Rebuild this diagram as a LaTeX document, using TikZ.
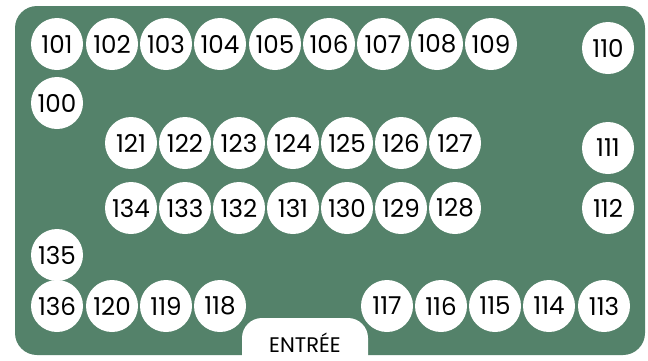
\documentclass[tikz,border=0pt]{standalone}
\usepackage{fontspec}
\setmainfont{Poppins}
\usepackage{tikz}
\usetikzlibrary{positioning}
\definecolor{salle}{RGB}{84,130,106}

\begin{document}
\begin{tikzpicture}[
  x=0.03cm,y=-0.03cm,
  font=\fontsize{21}{21}\selectfont,
  table/.style={circle,fill=white,minimum size=1.56cm,inner sep=0pt},
  entree/.style={fill=white,rounded corners=20*0.03cm},
]
\useasboundingbox (0,0) rectangle (648,360);
\fill[white] (0,0) rectangle (648,360);
\fill[salle,rounded corners=0.66cm] (15,6) rectangle (645,355);
\fill[entree] (242,318) rectangle (368,375);
\node (entree) at (305,343) {\fontsize{18}{18}\selectfont ENTRÉE};

% rangee du haut
\node[table] (t101) at (57,44) {101};
\node[table] (t102) at (112,44) {102};
\node[table] (t103) at (166,44) {103};
\node[table] (t104) at (220,44) {104};
\node[table] (t105) at (275,44) {105};
\node[table] (t106) at (329,44) {106};
\node[table] (t107) at (383,44) {107};
\node[table] (t108) at (437,44) {108};
\node[table] (t109) at (491,44) {109};
\node[table] (t110) at (608,48) {110};
\node[table] (t100) at (57,103) {100};

% ilot central
\node[table] (t121) at (131,143) {121};
\node[table] (t122) at (185,143) {122};
\node[table] (t123) at (239,143) {123};
\node[table] (t124) at (293,143) {124};
\node[table] (t125) at (347,143) {125};
\node[table] (t126) at (401,143) {126};
\node[table] (t127) at (455,143) {127};
\node[table] (t134) at (131,208) {134};
\node[table] (t133) at (185,208) {133};
\node[table] (t132) at (239,208) {132};
\node[table] (t131) at (293,208) {131};
\node[table] (t130) at (347,208) {130};
\node[table] (t129) at (401,208) {129};
\node[table] (t128) at (455,208) {128};

% cote droit
\node[table] (t111) at (608,148) {111};
\node[table] (t112) at (608,208) {112};

% rangee du bas
\node[table] (t135) at (57,255) {135};
\node[table] (t136) at (57,306) {136};
\node[table] (t120) at (112,306) {120};
\node[table] (t119) at (166,306) {119};
\node[table] (t118) at (220,306) {118};
\node[table] (t117) at (387,306) {117};
\node[table] (t116) at (441,306) {116};
\node[table] (t115) at (495,306) {115};
\node[table] (t114) at (549,306) {114};
\node[table] (t113) at (604,306) {113};
\end{tikzpicture}
\end{document}
